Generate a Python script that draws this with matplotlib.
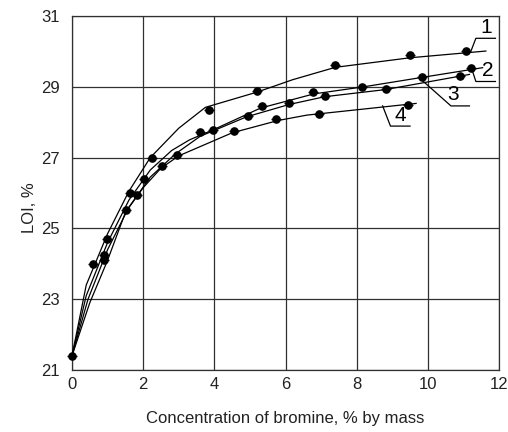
import matplotlib
matplotlib.use("Agg")
import matplotlib.pyplot as plt

plt.rcParams['font.family'] = ['Liberation Sans', 'DejaVu Sans']

# ---- data ----
# smooth curves (line vertices)
c1_lx = [0, 0.4, 1.0, 1.6, 2.2, 3.0, 3.75, 5.2, 6.2, 7.4, 9.5, 11.63]
c1_ly = [21.4, 23.4, 24.85, 26.05, 27.0, 27.83, 28.42, 28.85, 29.2, 29.55, 29.82, 30.01]
c2_lx = [0, 0.4, 1.0, 1.6, 2.2, 2.8, 3.3, 4.0, 5.3, 6.8, 8.2, 9.8, 11.54]
c2_ly = [21.4, 23.1, 24.6, 25.8, 26.65, 27.2, 27.5, 27.8, 28.4, 28.8, 29.0, 29.26, 29.54]
c3_lx = [0, 0.45, 1.0, 1.6, 2.2, 2.9, 3.6, 4.9, 6.1, 7.1, 8.8, 10.9, 11.17]
c3_ly = [21.4, 23.0, 24.4, 25.6, 26.45, 27.1, 27.6, 28.15, 28.5, 28.72, 28.92, 29.3, 29.35]
c4_lx = [0, 0.5, 1.0, 1.5, 2.0, 2.5, 3.0, 4.5, 5.8, 6.6, 9.67]
c4_ly = [21.4, 22.9, 24.1, 25.45, 26.15, 26.7, 27.05, 27.7, 28.05, 28.2, 28.53]

# measured points
c1_px = [0, 0.6, 0.97, 1.63, 2.24, 3.84, 5.21, 7.38, 9.51, 11.07]
c1_py = [21.4, 24.0, 24.7, 26.0, 26.98, 28.34, 28.89, 29.61, 29.91, 30.02]
c2_px = [0.9, 2.02, 3.97, 5.34, 6.78, 8.15, 9.83, 11.2]
c2_py = [24.25, 26.4, 27.78, 28.46, 28.84, 28.99, 29.27, 29.54]
c3_px = [0.9, 1.83, 2.52, 3.61, 4.94, 6.09, 7.11, 8.83, 10.9]
c3_py = [24.1, 25.95, 26.76, 27.72, 28.18, 28.53, 28.74, 28.93, 29.31]
c4_px = [1.53, 2.96, 4.55, 5.72, 6.93, 9.45]
c4_py = [25.53, 27.07, 27.76, 28.10, 28.24, 28.48]

curve_labels = ["1", "2", "3", "4"]
# leader lines: curve point -> underline start -> underline end
lead_x = [[11.22, 11.35, 11.9], [11.24, 11.35, 11.9], [9.83, 10.65, 11.17], [8.73, 8.95, 9.5]]
lead_y = [[30.03, 30.37, 30.37], [29.49, 29.15, 29.15], [29.19, 28.46, 28.46], [28.46, 27.89, 27.89]]
label_x = [11.63, 11.68, 10.72, 9.22]
label_y = [30.4, 29.2, 28.5, 27.93]

xticks = [0, 2, 4, 6, 8, 10, 12]
yticks = [21, 23, 25, 27, 29, 31]

fig = plt.figure(figsize=(5.08, 4.32), dpi=100)
ax = fig.add_axes([72/508, 1-370/432, 427/508, 354/432])

ax.set_xlim(0, 12)
ax.set_ylim(21, 31)
ax.set_xticks(xticks)
ax.set_yticks(yticks)
ax.grid(True, color='#303030', lw=0.9)
ax.set_axisbelow(True)
ax.tick_params(length=0, labelsize=12, colors='#222222')
ax.tick_params(axis='x', pad=5)
ax.tick_params(axis='y', pad=9)
for s in ax.spines.values():
    s.set_color('#303030')
    s.set_linewidth(0.9)

for lx, ly, px, py in [(c1_lx, c1_ly, c1_px, c1_py), (c2_lx, c2_ly, c2_px, c2_py),
                       (c3_lx, c3_ly, c3_px, c3_py), (c4_lx, c4_ly, c4_px, c4_py)]:
    ax.plot(lx, ly, color='black', lw=0.9, clip_on=False, zorder=3)
    ax.plot(px, py, ls='none', marker='o', ms=5.2, color='black', clip_on=False, zorder=4)
    ax.plot(px, py, ls='none', marker='_', ms=7.5, mew=1.0, color='black', clip_on=False, zorder=4)

for lab, lx, ly, tx, ty in zip(curve_labels, lead_x, lead_y, label_x, label_y):
    ax.plot(lx, ly, color='black', lw=0.9, clip_on=False, zorder=3)
    ax.text(tx, ty, lab, fontsize=15, ha='center', va='bottom', color='black', zorder=5)

ax.set_xlabel("Concentration of bromine, % by mass", fontsize=12, labelpad=14, color='#222222')
ax.set_ylabel("LOI, %", fontsize=12, color='#222222')
ax.yaxis.set_label_coords(-0.082, 0.46)

fig.savefig("out.png", dpi=100)
